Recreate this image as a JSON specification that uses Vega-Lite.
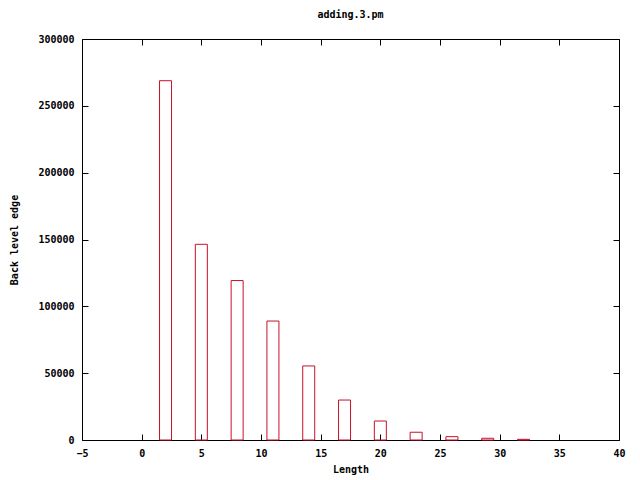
{
  "$schema": "https://vega.github.io/schema/vega-lite/v6.json",
  "width": 537,
  "height": 401,
  "autosize": "none",
  "padding": {"left": 82, "top": 39, "right": 21, "bottom": 40},
  "background": "white",
  "config": {
    "view": {"stroke": "black", "strokeWidth": 1},
    "font": "DejaVu Sans Mono",
    "axis": {
      "labelFont": "DejaVu Sans Mono",
      "labelFontWeight": "bold",
      "labelFontSize": 10,
      "labelColor": "black",
      "titleFont": "DejaVu Sans Mono",
      "titleFontWeight": "bold",
      "titleFontSize": 10,
      "titleColor": "black",
      "grid": false,
      "domain": false,
      "tickColor": "black",
      "tickSize": -6
    },
    "title": {"font": "DejaVu Sans Mono", "fontWeight": "bold", "fontSize": 10, "color": "black"}
  },
  "title": {"text": "adding.3.pm", "offset": 14},
  "data": {
    "values": [
      {"Length": 2, "Count": 268800},
      {"Length": 5, "Count": 146400},
      {"Length": 8, "Count": 119300},
      {"Length": 11, "Count": 89000},
      {"Length": 14, "Count": 55400},
      {"Length": 17, "Count": 29900},
      {"Length": 20, "Count": 14200},
      {"Length": 23, "Count": 5800},
      {"Length": 26, "Count": 2500},
      {"Length": 29, "Count": 1300},
      {"Length": 32, "Count": 500}
    ]
  },
  "layer": [
    {
      "mark": {"type": "bar", "size": 12, "fill": "white", "fillOpacity": 0, "stroke": "#c8102a", "strokeWidth": 1},
      "encoding": {
        "x": {
          "field": "Length", "type": "quantitative",
          "scale": {"domain": [-5, 40], "nice": false, "zero": false, "padding": 0},
          "axis": {"title": "Length", "values": [-5, 0, 5, 10, 15, 20, 25, 30, 35, 40], "labelPadding": 14, "titlePadding": 6, "labelFlush": false}
        },
        "y": {
          "field": "Count", "type": "quantitative",
          "scale": {"domain": [0, 300000], "nice": false},
          "axis": {"title": "Back level edge", "values": [0, 50000, 100000, 150000, 200000, 250000, 300000], "format": "d", "labelPadding": 14, "titlePadding": 18}
        }
      }
    },
    {
      "mark": {"type": "tick", "opacity": 0},
      "encoding": {
        "x": {
          "field": "Length", "type": "quantitative",
          "scale": {"domain": [-5, 40], "nice": false, "zero": false, "padding": 0},
          "axis": {"orient": "top", "title": null, "labels": false, "values": [-5, 0, 5, 10, 15, 20, 25, 30, 35, 40]}
        },
        "y": {
          "field": "Count", "type": "quantitative",
          "scale": {"domain": [0, 300000], "nice": false},
          "axis": {"orient": "right", "title": null, "labels": false, "values": [0, 50000, 100000, 150000, 200000, 250000, 300000]}
        }
      }
    }
  ],
  "resolve": {"axis": {"x": "independent", "y": "independent"}}
}
